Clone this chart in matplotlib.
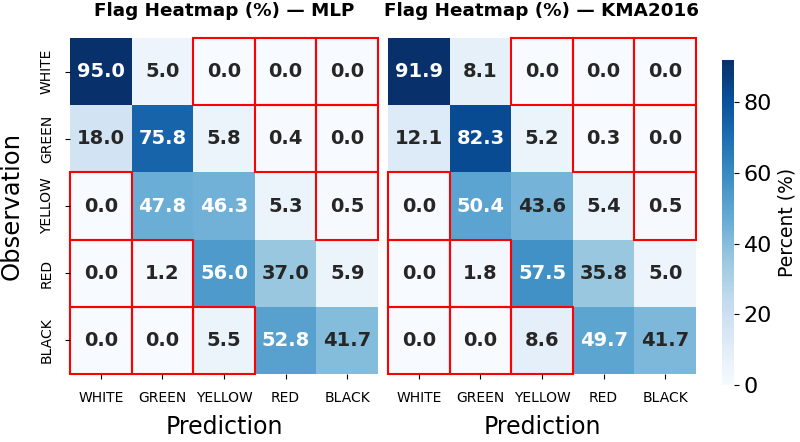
import matplotlib
matplotlib.use("Agg")
import matplotlib.pyplot as plt
import numpy as np
import seaborn as sns
from matplotlib.patches import Rectangle

# 类别标签
labels = ["WHITE", "GREEN", "YELLOW", "RED", "BLACK"]

# 各模型的百分比矩阵 (行: 观测, 列: 预测)
mlp_pct = [
    [95.0, 5.0, 0.0, 0.0, 0.0],
    [18.0, 75.8, 5.8, 0.4, 0.0],
    [0.0, 47.8, 46.3, 5.3, 0.5],
    [0.0, 1.2, 56.0, 37.0, 5.9],
    [0.0, 0.0, 5.5, 52.8, 41.7],
]
kma_pct = [
    [91.9, 8.1, 0.0, 0.0, 0.0],
    [12.1, 82.3, 5.2, 0.3, 0.0],
    [0.0, 50.4, 43.6, 5.4, 0.5],
    [0.0, 1.8, 57.5, 35.8, 5.0],
    [0.0, 0.0, 8.6, 49.7, 41.7],
]
titles = ["Flag Heatmap (%) — MLP", "Flag Heatmap (%) — KMA2016"]

W, H = 800, 442
fig = plt.figure(figsize=(8.0, 4.42), dpi=100)
ax1 = fig.add_axes([70 / W, 1 - 374 / H, 308 / W, 336 / H])
ax2 = fig.add_axes([388 / W, 1 - 374 / H, 308 / W, 336 / H])
cax = fig.add_axes([722 / W, 1 - 385 / H, 12 / W, 325 / H])

for i, (ax, data, title) in enumerate(zip([ax1, ax2], [mlp_pct, kma_pct], titles)):
    arr = np.array(data)
    last = i == 1
    sns.heatmap(arr, ax=ax, cmap="Blues", annot=True, fmt=".1f",
                annot_kws={"fontsize": 14, "fontweight": "bold"},
                xticklabels=labels, yticklabels=labels if not last else False,
                cbar=last, cbar_ax=cax if last else None, vmin=0)
    ax.set_title(title, fontsize=13.2, fontweight="bold", pad=16)
    ax.set_xlabel("Prediction", fontsize=17, labelpad=7)
    ax.tick_params(axis="x", labelsize=10, rotation=0, pad=9)
    if not last:
        ax.set_ylabel("Observation", fontsize=17.5, labelpad=12)
        ax.tick_params(axis="y", labelsize=10, pad=8)
        for t in ax.get_yticklabels():
            t.set_rotation(90)
            t.set_va("center")
    else:
        ax.tick_params(axis="y", left=False)
    # 相差两级以上的格子用红框标出
    n = arr.shape[0]
    for r in range(n):
        for c in range(n):
            if abs(r - c) >= 2:
                ax.add_patch(Rectangle((c, r), 1, 1, fill=False,
                                       edgecolor="red", lw=1.5, clip_on=False))

cax.tick_params(labelsize=16)
cax.set_ylabel("Percent (%)", fontsize=13.5, labelpad=4)

fig.savefig("out.png", dpi=100)
